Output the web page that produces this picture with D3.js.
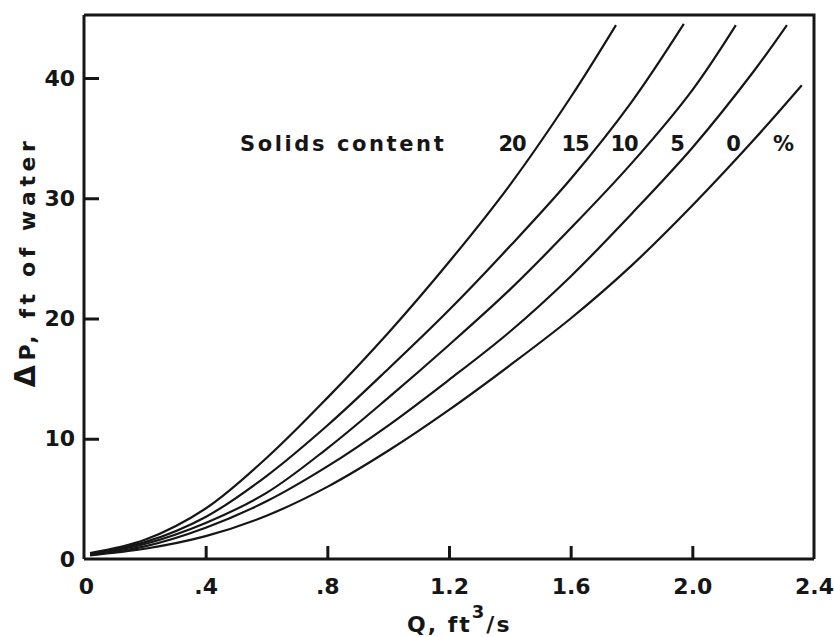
<!DOCTYPE html>
<html lang="en">
<head>
    <meta charset="UTF-8">
    <title>Pressure drop vs flow</title>
    <script src="https://d3js.org/d3.v7.min.js"></script>
    <style>
        body { margin: 0; background: #fff; }
        svg text {
            font-family: 'DejaVu Sans', sans-serif;
            font-weight: bold;
            fill: #161616;
        }
        .axis path, .axis line { stroke: #161616; stroke-width: 3px; }
        .axis text { font-size: 22px; }
        .curve { fill: none; stroke: #161616; stroke-width: 2.2px; }
        .frame { fill: none; stroke: #161616; stroke-width: 3px; }
    </style>
</head>
<body>
    <div id="chart"></div>
    <script>
        // flow Q (ft3/s) and pressure drop (ft of water)
        const q20 = [0.02, 0.2, 0.4, 0.6, 0.8, 1.0, 1.2, 1.4, 1.6, 1.749];
        const dp20 = [0.5, 1.6, 4.2, 8.4, 13.4, 18.8, 24.7, 31.1, 38.4, 44.4];
        const q15 = [0.02, 0.2, 0.4, 0.6, 0.8, 1.0, 1.2, 1.4, 1.6, 1.8, 1.972];
        const dp15 = [0.45, 1.4, 3.5, 6.9, 11.1, 15.8, 20.7, 26.0, 31.6, 38.0, 44.5];
        const q10 = [0.02, 0.2, 0.4, 0.6, 0.8, 1.0, 1.2, 1.4, 1.6, 1.8, 2.0, 2.143];
        const dp10 = [0.4, 1.25, 3.0, 5.5, 9.2, 13.4, 17.8, 22.4, 27.5, 32.9, 39.0, 44.4];
        const q5 = [0.02, 0.2, 0.4, 0.6, 0.8, 1.0, 1.2, 1.4, 1.6, 1.8, 2.0, 2.2, 2.311];
        const dp5 = [0.35, 1.05, 2.6, 4.8, 7.7, 11.1, 14.9, 18.9, 23.5, 28.7, 34.2, 40.5, 44.4];
        const q0 = [0.02, 0.2, 0.4, 0.6, 0.8, 1.0, 1.2, 1.4, 1.6, 1.8, 2.0, 2.2, 2.36];
        const dp0 = [0.3, 0.85, 1.9, 3.6, 6.0, 9.0, 12.4, 16.1, 20.0, 24.4, 29.4, 34.8, 39.4];

        const series = [
            {name: "20", q: q20, dp: dp20},
            {name: "15", q: q15, dp: dp15},
            {name: "10", q: q10, dp: dp10},
            {name: "5", q: q5, dp: dp5},
            {name: "0", q: q0, dp: dp0}
        ];

        const xTicks = [0, 0.4, 0.8, 1.2, 1.6, 2.0, 2.4];
        const xTickLabels = ["0", ".4", ".8", "1.2", "1.6", "2.0", "2.4"];
        const yTicks = [0, 10, 20, 30, 40];

        // legend labels and where they sit
        const legendLabels = ["20", "15", "10", "5", "0", "%"];
        const legendX = [512, 575, 624, 677, 733, 783];

        const width = 834, height = 637;
        const plot = {left: 84, right: 814, top: 15, bottom: 559};

        const svg = d3.select("#chart").append("svg")
            .attr("width", width)
            .attr("height", height);

        const x = d3.scaleLinear().domain([0, 2.4]).range([plot.left, plot.right]);
        const y = d3.scaleLinear().domain([0, 45.24]).range([plot.bottom, plot.top]);

        svg.append("clipPath").attr("id", "plot")
            .append("rect")
            .attr("x", plot.left).attr("y", plot.top)
            .attr("width", plot.right - plot.left).attr("height", plot.bottom - plot.top);

        const line = d3.line()
            .x(d => x(d[0]))
            .y(d => y(d[1]))
            .curve(d3.curveCatmullRom.alpha(0.5));

        svg.append("g").attr("clip-path", "url(#plot)")
            .selectAll(".curve")
            .data(series)
            .enter()
            .append("path")
            .attr("class", "curve")
            .attr("d", s => line(s.q.map((v, i) => [v, s.dp[i]])));

        // frame (top and right edges)
        svg.append("path")
            .attr("class", "frame")
            .attr("d", `M${plot.left},${plot.top}H${plot.right}V${plot.bottom}`);

        const xAxis = svg.append("g")
            .attr("class", "axis")
            .attr("transform", `translate(0,${plot.bottom})`)
            .call(d3.axisBottom(x)
                .tickValues(xTicks)
                .tickFormat((d, i) => xTickLabels[i])
                .tickSizeInner(-13)
                .tickSizeOuter(0)
                .tickPadding(19));

        const yAxis = svg.append("g")
            .attr("class", "axis")
            .attr("transform", `translate(${plot.left},0)`)
            .call(d3.axisLeft(y)
                .tickValues(yTicks)
                .tickFormat(d3.format("d"))
                .tickSizeInner(-15)
                .tickSizeOuter(0)
                .tickPadding(9));

        // axis lines only span the plot box
        yAxis.select(".domain").attr("d", `M0,${plot.bottom}V${plot.top}`);
        xAxis.select(".domain").attr("d", `M${plot.left},0H${plot.right}`);
        xAxis.selectAll(".tick text").attr("x", d => d === 0 ? 2 : 0);
        yAxis.selectAll(".tick line").filter(d => d === 0).remove();
        xAxis.selectAll(".tick line").filter(d => d === 0 || d === 2.4).remove();

        // legend
        svg.append("text")
            .attr("x", 240)
            .attr("y", 151)
            .style("font-size", "21px")
            .style("letter-spacing", "2.6px")
            .text("Solids content");

        svg.selectAll(".legend-label")
            .data(legendLabels)
            .enter()
            .append("text")
            .attr("class", "legend-label")
            .attr("x", (d, i) => legendX[i])
            .attr("y", 151)
            .attr("text-anchor", "middle")
            .style("font-size", "21px")
            .style("letter-spacing", "-1px")
            .text(d => d);

        // y axis title
        const yTitle = svg.append("text")
            .attr("transform", "translate(35,262) rotate(-90)")
            .attr("text-anchor", "middle")
            .style("font-size", "22px")
            .style("letter-spacing", "4.6px");
        yTitle.append("tspan").style("font-size", "29px").text("\u0394");
        yTitle.append("tspan").text("P, ft of water");

        // x axis title
        const xTitle = svg.append("text")
            .attr("x", 407)
            .attr("y", 632)
            .style("font-size", "22px")
            .style("letter-spacing", "2px");
        xTitle.append("tspan").text("Q, ft");
        xTitle.append("tspan").attr("dy", -14).style("font-size", "18px").text("3");
        xTitle.append("tspan").attr("dy", 14).text("/s");
    </script>
</body>
</html>
